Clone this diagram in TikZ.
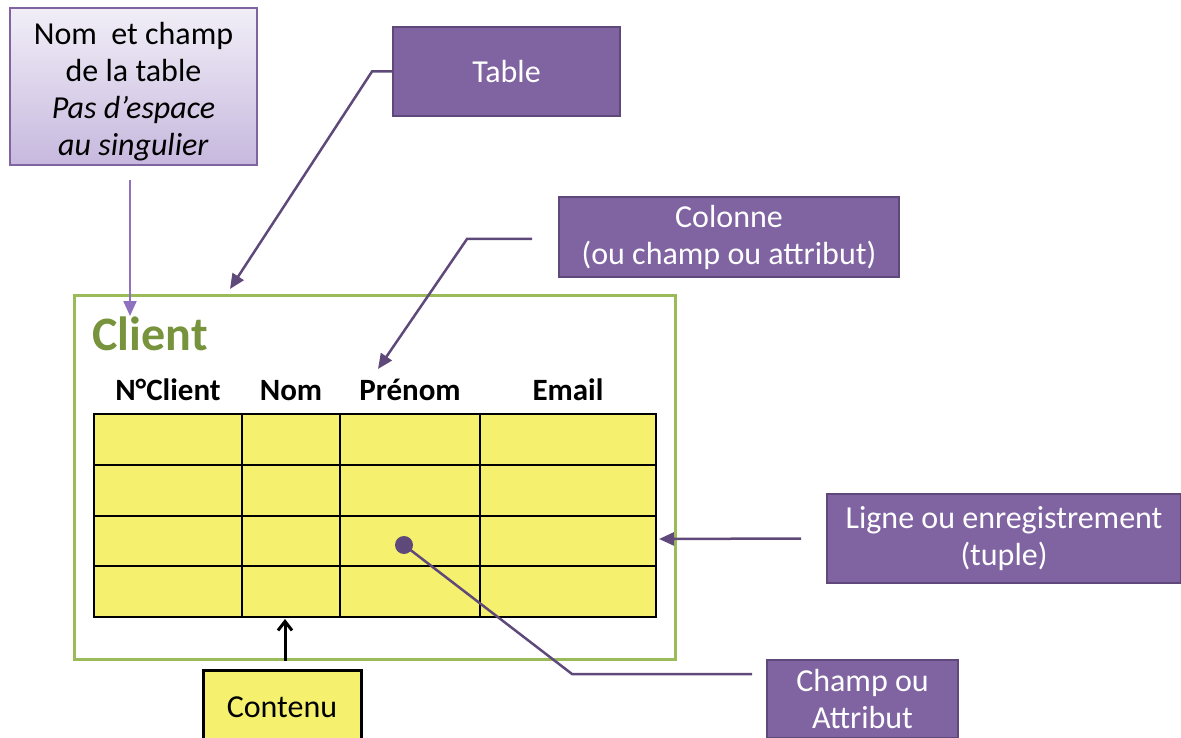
\documentclass[tikz,border=0pt]{standalone}
\usepackage{fontspec}
\setmainfont{Carlito}
\usetikzlibrary{arrows.meta}

\definecolor{mauve}{HTML}{8064A2}
\definecolor{bordmauve}{HTML}{5F497A}
\definecolor{lavande}{HTML}{8E72BD}
\definecolor{vertcadre}{HTML}{9BBB59}
\definecolor{verttitre}{HTML}{77933C}
\definecolor{jaune}{HTML}{F5F06E}

\tikzset{
  etiquette/.style={draw=bordmauve, line width=2pt, fill=mauve, text=white, align=center,
    font=\fontsize{32}{37}\selectfont, inner sep=0pt},
  fleche/.style={draw=bordmauve, line width=2.5pt, -{Triangle[length=15pt,width=13pt]}},
  entete/.style={anchor=base, font=\fontsize{31}{34}\selectfont\bfseries},
}

\begin{document}
\begin{tikzpicture}[x=1pt, y=-1pt]
        \useasboundingbox (0,0) rectangle (1181,738);
        \clip (0,0) rectangle (1181,738);

        % Etiquettes
        \draw[mauve, line width=1.5pt, top color=lavande!12, bottom color=lavande!50] (10,8) rectangle (257,165);
        \node[align=center, font=\fontsize{32}{37}\selectfont, inner sep=0pt] (nomtable) at (133.5,92)
              {Nom\ \ et champ\\de la table\\\textit{Pas d'espace}\\\textit{au singulier}};
        \node[etiquette, minimum width=227pt, minimum height=89pt] (table) at (506.5,71.5) {Table};
        \node[etiquette, minimum width=340pt, minimum height=80pt] (colonne) at (729,237)
              {Colonne\\(ou champ ou attribut)};
        \node[etiquette, minimum width=354pt, minimum height=89pt] (ligne) at (1004,538.5)
              {Ligne ou enregistrement\\(tuple)};
        \node[etiquette, minimum width=191pt, minimum height=78pt] (champ) at (862.5,699)
              {Champ ou\\Attribut};
        \node[draw=black, line width=3pt, fill=jaune, minimum width=158pt, minimum height=74pt,
              font=\fontsize{32}{37}\selectfont] (contenu) at (282,707) {Contenu};

        % Table Client
        \draw[vertcadre, line width=3pt] (74,295) rectangle (675,659);
        \node[anchor=west, text=verttitre, font=\fontsize{48}{52}\selectfont\bfseries] (client) at (89,334) {Client};
        \node[entete] (ncli) at (168,400) {N°Client};
        \node[entete] (nom) at (291,400) {Nom};
        \node[entete] (prenom) at (410,400) {Prénom};
        \node[entete] (email) at (568,400) {Email};

        \filldraw[fill=jaune, draw=black, line width=2pt] (94,414) rectangle (656,617);
        \foreach \x in {242,340,480}
            \draw[line width=2pt] (\x,414) -- (\x,617);
        \foreach \y in {465,516,566}
            \draw[line width=2pt] (94,\y) -- (656,\y);

        % Points d'arrivee
        \coordinate (nomdepart) at (130,180);
        \coordinate (nomcible) at (130,316);
        \coordinate (tablecible) at (230,289);
        \coordinate (colcible) at (378,369);
        \coordinate (lignecible) at (659,539);
        \coordinate (point) at (404,545);
        \coordinate (coude) at (572,674);
        \coordinate (contenucible) at (285,619);

        % Fleches
        \draw[fleche, draw=lavande, line width=2pt] (nomdepart) -- (nomcible);
        \draw[fleche] (table.west) -- ++(-20,0) -- (tablecible);
        \draw[fleche] ([xshift=-26pt,yshift=-2pt]colonne.west) -- ++(-65,0) -- (colcible);
        \draw[fleche] ([xshift=-25pt]ligne.west) -- (lignecible);
        \fill[bordmauve] (point) circle (9pt);
        \draw[bordmauve, line width=2.5pt] (point) -- (coude) -- ([xshift=-14pt,yshift=25pt]champ.west);
        \draw[line width=3pt, -{Straight Barb[length=9pt,width=14pt]}] ([xshift=3pt,yshift=8pt]contenu.north) -- (contenucible);
\end{tikzpicture}
\end{document}
